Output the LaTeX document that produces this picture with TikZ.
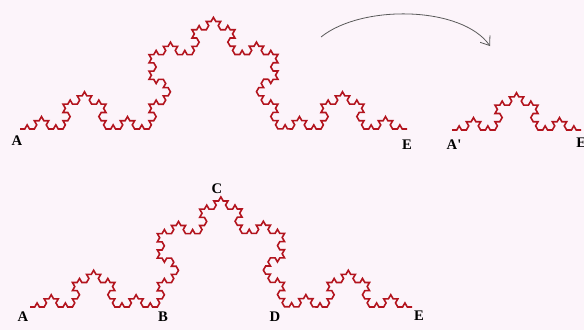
\documentclass[tikz,border=0pt]{standalone}
\usepackage{fontspec}
\setmainfont{Liberation Serif}
\usetikzlibrary{decorations.fractals,arrows.meta}

\definecolor{kochred}{HTML}{B3141E}
\definecolor{paperpink}{HTML}{FCF4FA}

\begin{document}
\begin{tikzpicture}[x=0.75pt, y=-0.75pt,
    koch/.style={draw=kochred, line width=1.2pt, line join=miter,
                 decoration=Koch snowflake},
    ptlbl/.style={font=\fontsize{11}{12}\selectfont\bfseries, inner sep=0pt},
    turn/.style={-{Straight Barb[length=6pt, width=9pt]}, black!65,
                 line width=0.6pt},
]
\useasboundingbox (0,0) rectangle (584,330);
\fill[paperpink] (0,0) rectangle (584,330);

% Whole curve A -> E
\coordinate (a1) at (20,129);
\coordinate (e1) at (407,129);
\draw[koch] decorate{decorate{decorate{decorate{(a1) -- (e1)}}}};
\node[ptlbl] (la1) at (17,141) {A};
\node[ptlbl] (le1) at (407,145) {E};

% Scaled copy A' -> E'
\coordinate (a2) at (452,130);
\coordinate (e2) at (581,130);
\draw[koch] decorate{decorate{decorate{(a2) -- (e2)}}};
\node[ptlbl] (la2) at (454,145) {A\textquotesingle};
\node[ptlbl, anchor=west] (le2) at (576,143) {E\textquotesingle};

% Turn arrow
\coordinate (arrS) at (321,37);
\coordinate (arrT) at (490,46);
\draw[turn] (arrS) .. controls (362,4) and (462,6) .. (arrT);

% Curve split into its four parts
\coordinate (a3) at (30,307);
\coordinate (e3) at (412,307);
\draw[koch] decorate{decorate{decorate{decorate{(a3) -- (e3)}}}};
\node[ptlbl] (la3) at (23,317) {A};
\node[ptlbl] (lb3) at (163,317) {B};
\node[ptlbl] (lc3) at (217,189) {C};
\node[ptlbl] (ld3) at (275,317) {D};
\node[ptlbl] (le3) at (419,316) {E};

\end{tikzpicture}
\end{document}
